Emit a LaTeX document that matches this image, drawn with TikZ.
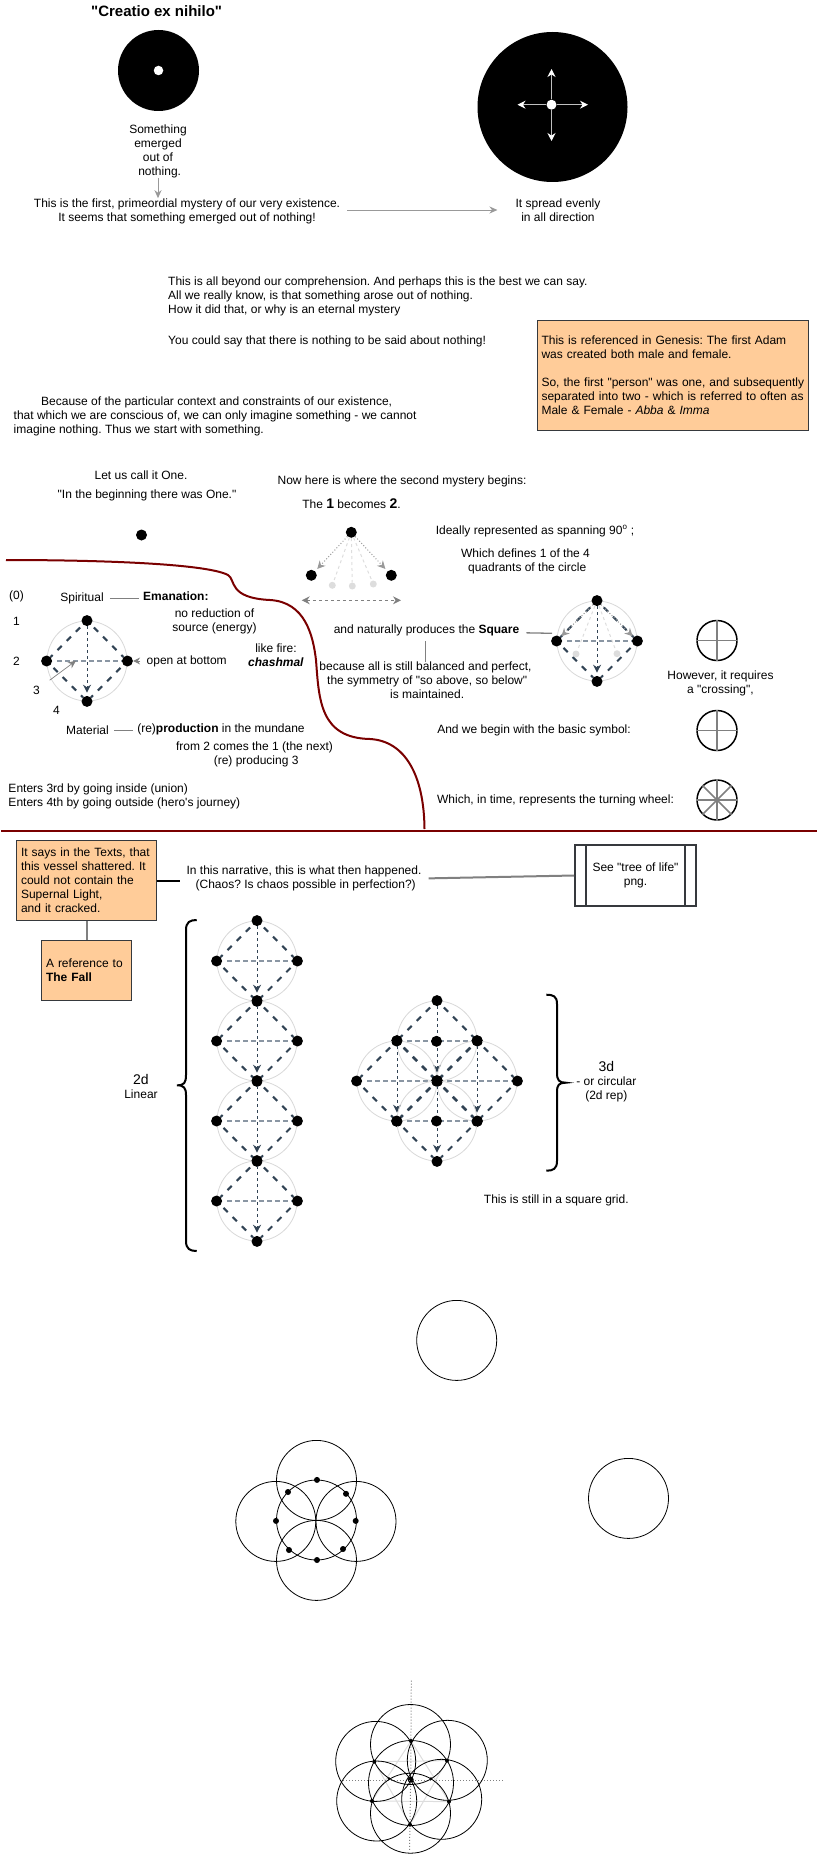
\documentclass[tikz,border=0pt]{standalone}
\usepackage{fontspec}
\setmainfont{Liberation Sans}[Ligatures=TeXOff]
\usetikzlibrary{arrows.meta}
\frenchspacing
\definecolor{slateline}{HTML}{314354}
\definecolor{crossline}{HTML}{8A96A3}
\definecolor{ringgrey}{HTML}{D8D8D8}
\definecolor{faintgrey}{HTML}{DDDDDD}
\definecolor{tipgrey}{HTML}{999999}
\definecolor{peach}{HTML}{FFCC99}
\definecolor{boxedge}{HTML}{36393D}
\definecolor{darkred}{HTML}{7A0000}
\tikzset{
	txt/.style={inner sep=0pt,align=center,font=\fontsize{12}{14}\selectfont},
	ltxt/.style={txt,align=left},
	dot/.style={circle,fill=black,inner sep=0pt,minimum size=11pt},
	faintdot/.style={circle,fill=faintgrey,inner sep=0pt,minimum size=7pt},
	ring/.style={circle,draw=ringgrey,line width=.8pt,inner sep=0pt,minimum size=80pt},
	blackring/.style={circle,draw=black,line width=.8pt,inner sep=0pt,minimum size=80pt},
	symbolring/.style={circle,draw=black,line width=1.5pt,inner sep=0pt,minimum size=40pt},
	diagedge/.style={draw=slateline,line width=2pt,dash pattern=on 6pt off 7pt,dash phase=9pt},
	crossedge/.style={draw=crossline,line width=1.3pt,dash pattern=on 5pt off 3pt,shorten <=5pt},
	downedge/.style={draw=slateline,line width=1pt,dash pattern=on 3pt off 3pt,-{Stealth[length=8pt,width=8pt]},shorten >=3pt},
	greyarrow/.style={draw=tipgrey,line width=1pt,-{Stealth[length=8pt,width=7pt]}},
	greyline/.style={draw=gray,line width=1pt},
	whitearrow/.style={draw=lightgray,line width=1pt,-{Stealth[length=8pt,width=8pt,color=white]}},
	dottedarrow/.style={draw=tipgrey,line width=1pt,dotted,-{Stealth[length=8pt,width=8pt,color=tipgrey]},shorten >=3pt},
	faintedge/.style={draw=faintgrey,line width=1pt,dashed},
	notebox/.style={draw=boxedge,fill=peach,line width=1pt,txt,align=left,inner xsep=4.5pt,inner ysep=0pt},
	brace/.style={draw=black,line width=2pt},
	symbolcross/.style={draw=gray,line width=1.5pt},
}
\newcommand{\lsp}{\hspace*{3.33pt}}
\newcommand{\bignum}[1]{{\fontsize{14}{14}\selectfont\bfseries #1}}
% ring with four dots, diamond and cross inside
\newcommand{\diamondcell}[3]{%
	\node[ring] (#1c) at (#2,#3) {};
	\node[dot] (#1t) at (#1c.north) {};
	\node[dot] (#1l) at (#1c.west) {};
	\node[dot] (#1r) at (#1c.east) {};
	\node[dot] (#1b) at (#1c.south) {};
	\draw[diagedge] (#1t) -- (#1l);
	\draw[diagedge] (#1t) -- (#1r);
	\draw[diagedge] (#1l) -- (#1b);
	\draw[diagedge] (#1r) -- (#1b);
	\draw[crossedge] (#1l) -- (#1r);
	\draw[downedge] (#1t) -- (#1b);
}
\begin{document}
\begin{tikzpicture}[x=1pt,y=-1pt]
	\useasboundingbox (0,0) rectangle (818,1854);

	% first row: the two black discs
	\node[txt,font=\fontsize{15}{16}\selectfont\bfseries] (title) at (156.6,11) {"Creatio ex nihilo"};
	\node[circle,fill=black,inner sep=0pt,minimum size=81pt] (nothing) at (158.5,70.5) {};
	\node[circle,fill=white,inner sep=0pt,minimum size=9.5pt] (spark) at (158.5,70.5) {};
	\node[circle,fill=black,inner sep=0pt,minimum size=150pt] (spread) at (552.5,107) {};
	\node[circle,fill=white,inner sep=0pt,minimum size=10pt] (spreadmid) at (551.5,104.7) {};
	\coordinate (spreadn) at (551.5,69);
	\coordinate (spreads) at (551.5,141);
	\coordinate (spreadw) at (517.5,104.7);
	\coordinate (spreade) at (588,104.7);
	\draw[whitearrow] (spreadmid) -- (spreadn);
	\draw[whitearrow] (spreadmid) -- (spreads);
	\draw[whitearrow] (spreadmid) -- (spreadw);
	\draw[whitearrow] (spreadmid) -- (spreade);
	\node[txt] (emerged) at (158,151.5) {Something\\emerged\\out of\\\lsp nothing.};
	\node[txt] (first) at (187,211) {This is the first, primeordial mystery of our very existence.\\It seems that something emerged out of nothing!};
	\node[txt] (evenly) at (558,210) {It spread evenly\\in all direction};
	\draw[greyarrow] (emerged) -- (emerged |- first.north) ;
	\draw[greyarrow,shorten <=7pt,shorten >=18pt] (evenly -| first.east) -- (evenly.west);

	% the paragraphs
	\node[ltxt,anchor=west] (beyond) at (168,296) {This is all beyond our comprehension. And perhaps this is the best we can say.\\All we really know, is that something arose out of nothing.\\How it did that, or why is an eternal mystery};
	\node[ltxt,anchor=west] (saidabout) at (168,341) {You could say that there is nothing to be said about nothing!};
	\node[notebox,text width=262pt,minimum height=110pt] (genesis) at (672.5,375) {This is referenced in Genesis: The first Adam\\was created both male and female.\\[14pt]\mbox{So, the first "person" was one, and subsequently}\\\mbox{separated into two - which is referred to often as}\\Male \& Female - \textit{Abba} \& \textit{Imma}};
	\node[ltxt,anchor=west] (context) at (13.5,416) {\hspace*{27.5pt}Because of the particular context and constraints of our existence,\\that which we are conscious of, we can only imagine something - we cannot\\imagine nothing. Thus we start with something.};

	% one and two
	\node[txt] (callone) at (141,475) {Let us call it One.};
	\node[txt] (beginning) at (147,495) {"In the beginning there was One."};
	\node[dot] (one) at (141.5,535) {};
	\node[txt] (second) at (402,481.5) {Now here is where the second mystery begins:};
	\node[txt] (becomes) at (351.5,504) {The \bignum{1} becomes \bignum{2}.};
	\node[dot] (apex) at (351.3,532.3) {};
	\node[dot] (apexl) at (311.3,575.3) {};
	\node[dot] (apexr) at (391.3,575.3) {};
	\node[faintdot] (fainta) at (332.3,585.3) {};
	\node[faintdot] (faintb) at (352.3,586) {};
	\node[faintdot] (faintc) at (373.3,584) {};
	\draw[faintedge] (apex) -- (fainta);
	\draw[faintedge] (apex) -- (faintb);
	\draw[faintedge] (apex) -- (faintc);
	\draw[dottedarrow] (apex) -- (apexl);
	\draw[dottedarrow] (apex) -- (apexr);
	\coordinate (spanl) at (301.7,600.3);
	\coordinate (spanr) at (401,600.3);
	\draw[draw=gray,line width=1pt,dash pattern=on 3pt off 3pt,{Stealth[length=8pt,width=8pt]}-{Stealth[length=8pt,width=8pt]}] (spanl) -- (spanr);
	\node[txt] (ideally) at (535,531) {Ideally represented as spanning 90\textsuperscript{o} ;};
	\node[txt] (quadrants) at (525.5,561) {Which defines 1 of the 4\\\lsp quadrants of the circle};

	% the boundary
	\draw[draw=darkred,line width=2pt] (6,560) .. controls (90,560) and (205,563) .. (228,575) .. controls (236,580) and (228,598) .. (270,600) .. controls (305,602) and (313,635) .. (316,660) .. controls (319,700) and (320,738) .. (370,739) .. controls (405,741) and (424,775) .. (424.5,829);
	\draw[draw=darkred,line width=2pt] (1,830.5) -- (817,830.5);

	% the square, left
	\diamondcell{sq}{87}{661}
	\node[txt] (zero) at (16.5,596) {(0)};
	\node[txt] (numa) at (16.5,621) {1};
	\node[txt] (numb) at (16.5,661) {2};
	\node[txt] (numc) at (36.5,690) {3};
	\node[txt] (numd) at (56.5,710) {4};
	\coordinate (inpoint) at (76,660.7);
	\draw[draw=gray,line width=.7pt,-{Stealth[length=8pt,width=7pt]},shorten <=12pt] (numc) -- (inpoint);
	\node[txt] (spiritual) at (82,598) {Spiritual};
	\node[txt,anchor=west] (emanation) at (143,596) {\textbf{Emanation:}};
	\draw[greyline,line width=.7pt,shorten <=6pt,shorten >=4pt] (spiritual) -- (spiritual -| emanation.west);
	\node[txt] (reduction) at (214.5,621) {no reduction of\\source (energy)};
	\node[txt] (bottomopen) at (186.7,661) {open at bottom};
	\draw[draw=gray,line width=1pt,-{Stealth[length=7pt,width=7pt]},shorten <=6pt] (bottomopen) -- (sqr);
	\node[txt] (fire) at (276,655.5) {like fire:\\\textbf{\textit{chashmal}}};
	\node[txt] (material) at (87.5,730.5) {Material};
	\node[txt] (mundane) at (221,729.5) {(re)\textbf{production} in the mundane};
	\draw[greyline,line width=.7pt,shorten <=5pt,shorten >=4pt] (material) -- (material -| mundane.west);
	\node[txt] (comes) at (254.5,754) {from 2 comes the 1 (the next)\\\lsp (re) producing 3};
	\node[ltxt,anchor=west] (enters) at (8.3,796) {Enters 3rd by going inside (union)\\Enters 4th by going outside (hero's journey)};

	% the square, right
	\diamondcell{big}{597}{641}
	\node[faintdot] (bigfa) at (576,654) {};
	\node[faintdot] (bigfb) at (617,653.7) {};
	\draw[faintedge] (bigt) -- (bigfa);
	\draw[faintedge] (bigt) -- (bigfb);
	\draw[dottedarrow,shorten >=1pt] (bigt) -- (bigl);
	\draw[dottedarrow,shorten >=1pt] (bigt) -- (bigr);
	\node[txt] (naturally) at (426.5,630.7) {and naturally produces the \textbf{Square}};
	\coordinate (squarein) at (552,633.3);
	\draw[draw=gray,line width=1.3pt,shorten <=7pt] ([yshift=-2pt]naturally.east) -- (squarein);
	\node[txt] (balanced) at (425.5,680.7) {because all is still balanced and perfect,\\\lsp the symmetry of "so above, so below"\\\lsp is maintained.};
	\draw[greyline,line width=.7pt] (naturally.south -| balanced.north) ++(0,5) -- (balanced.north);

	% crossed circles
	\node[symbolring] (crossa) at (717,640.5) {};
	\draw[symbolcross] (crossa.north) -- (crossa.south);
	\draw[symbolcross] (crossa.west) -- (crossa.east);
	\node[txt] (crossing) at (720.5,683.5) {However, it requires\\a "crossing",};
	\node[txt] (basic) at (534,730.5) {And we begin with the basic symbol:};
	\node[symbolring] (crossb) at (717,730.5) {};
	\draw[symbolcross] (crossb.north) -- (crossb.south);
	\draw[symbolcross] (crossb.west) -- (crossb.east);
	\node[txt] (turning) at (555.5,800.5) {Which, in time, represents the turning wheel:};
	\node[symbolring] (wheel) at (717,800) {};
	\draw[symbolcross] (wheel.north) -- (wheel.south);
	\draw[symbolcross] (wheel.west) -- (wheel.east);
	\draw[symbolcross] (wheel.45) -- (wheel.225);
	\draw[symbolcross] (wheel.135) -- (wheel.-45);

	% below the line: the notes
	\node[notebox,text width=131pt,minimum height=80pt] (texts) at (86.5,880.5) {It says in the Texts, that\\this vessel shattered. It\\could not contain the\\Supernal Light,\\and it cracked.};
	\node[notebox,text width=81pt,minimum height=60pt] (fall) at (86.5,970.5) {A reference to\\\textbf{The Fall}};
	\draw[draw=gray,line width=2pt] (texts) -- (fall);
	\node[txt] (narrative) at (304,878.5) {In this narrative, this is what then happened.\\\lsp (Chaos? Is chaos possible in perfection?)};
	\draw[draw=black,line width=2pt,shorten <=-.5pt,shorten >=6pt] (texts.east) -- (narrative.west |- texts.east);
	\node[txt,draw=boxedge,line width=2pt,minimum width=121pt,minimum height=61pt] (tree) at (635.5,875.5) {See "tree of life"\\png.};
	\draw[draw=boxedge,line width=2pt] ([xshift=12.3pt]tree.north west) -- ([xshift=12.3pt]tree.south west);
	\draw[draw=boxedge,line width=2pt] ([xshift=-12.3pt]tree.north east) -- ([xshift=-12.3pt]tree.south east);
	\draw[draw=gray,line width=2pt,shorten <=7pt] (narrative.east) -- (tree.west);

	% linear column
	\draw[brace] (196.7,920) .. controls (190,920) and (186,922) .. (186,930) -- (186,1075) .. controls (186,1083) and (184,1085.3) .. (177,1085.3) .. controls (184,1085.3) and (186,1088) .. (186,1095) -- (186,1241) .. controls (186,1249) and (190,1251) .. (196.7,1251);
	\node[txt] (twod) at (141,1086) {{\fontsize{14}{14}\selectfont 2d}\\Linear};
	\diamondcell{lina}{257}{961}
	\diamondcell{linb}{257}{1041}
	\diamondcell{linc}{257}{1121}
	\diamondcell{lind}{257}{1201}

	% circular group
	\diamondcell{cirt}{437}{1041}
	\diamondcell{cirl}{397}{1081}
	\diamondcell{cirr}{477}{1081}
	\diamondcell{cirb}{437}{1121}
	\node[dot] (midt) at (436.5,1041.3) {};
	\node[dot] (midb) at (436.5,1121) {};
	\draw[brace] (546.3,994.7) .. controls (553,994.7) and (557,996) .. (557,1004) -- (557,1073) .. controls (557,1080) and (559,1082.7) .. (565.7,1082.7) .. controls (559,1082.7) and (557,1085) .. (557,1092) -- (557,1161) .. controls (557,1169) and (553,1170.7) .. (546.3,1170.7);
	\node[txt] (threed) at (606.3,1081.5) {{\fontsize{14}{14}\selectfont 3d}\\- or circular\\(2d rep)};
	\node[txt] (grid) at (556.3,1200.7) {This is still in a square grid.};

	% single circles
	\node[blackring] (single) at (456.7,1340.4) {};
	\node[blackring] (singler) at (628.5,1498.4) {};

	% five circles
	\node[blackring] (fivet) at (316.5,1480.4) {};
	\node[blackring] (fivel) at (275.8,1521.4) {};
	\node[blackring] (fiver) at (356,1521.4) {};
	\node[blackring] (fiveb) at (316.5,1560.4) {};
	\node[blackring] (fivem) at (316.5,1520) {};
	\foreach \nm/\xx/\yy in {pa/317/1479.9,pb/346/1493.8,pc/355.7/1520.9,pd/343/1549,pe/317/1560,pf/289/1550,pg/276/1520.9,ph/288/1492}
		\node[circle,fill=black,inner sep=0pt,minimum size=6pt] (\nm) at (\xx,\yy) {};

	% seven circles
	\coordinate (startop) at (411,1741);
	\coordinate (starbl) at (372,1801);
	\coordinate (starbr) at (449,1801.6);
	\coordinate (startl) at (374.3,1761.7);
	\coordinate (startr) at (447,1760.6);
	\coordinate (starbot) at (410,1824.7);
	\draw[draw=faintgrey,line width=1pt] (startop) -- (starbl) -- (starbr) -- cycle;
	\draw[draw=faintgrey,line width=1pt] (startl) -- (startr) -- (starbot) -- cycle;
	\coordinate (axisn) at (411.3,1680.5);
	\coordinate (axiss) at (409.5,1851);
	\coordinate (axisw) at (343,1780.4);
	\coordinate (axise) at (504,1780.4);
	\node[circle,fill=black,inner sep=0pt,minimum size=6pt] (hub) at (410.7,1779.7) {};
	\draw[draw=gray,line width=1pt,dotted] (axisn) -- (hub);
	\draw[draw=gray,line width=1pt,dotted] (hub) -- (axiss);
	\draw[draw=gray,line width=1pt,dotted] (axisw) -- (axise);
	\node[blackring] (sevt) at (410.5,1744.5) {};
	\node[blackring] (sevul) at (375.7,1761.4) {};
	\node[blackring] (sevur) at (447.3,1760.3) {};
	\node[blackring,minimum size=85pt] (sevm) at (411,1783) {};
	\node[blackring] (sevll) at (376.7,1801) {};
	\node[blackring] (sevlr) at (441.7,1799.3) {};
	\node[blackring] (sevb) at (410.5,1813.2) {};
	\foreach \nm/\pp in {ka/startop,kb/starbl,kc/starbr,kd/startl,ke/startr,kf/starbot}
		\node[circle,fill=black,inner sep=0pt,minimum size=4pt] (\nm) at (\pp) {};
	\node[circle,fill=black,inner sep=0pt,minimum size=3pt] (kg) at (389,1778.6) {};
	\node[circle,fill=black,inner sep=0pt,minimum size=3pt] (kh) at (431,1778.6) {};
\end{tikzpicture}
\end{document}
